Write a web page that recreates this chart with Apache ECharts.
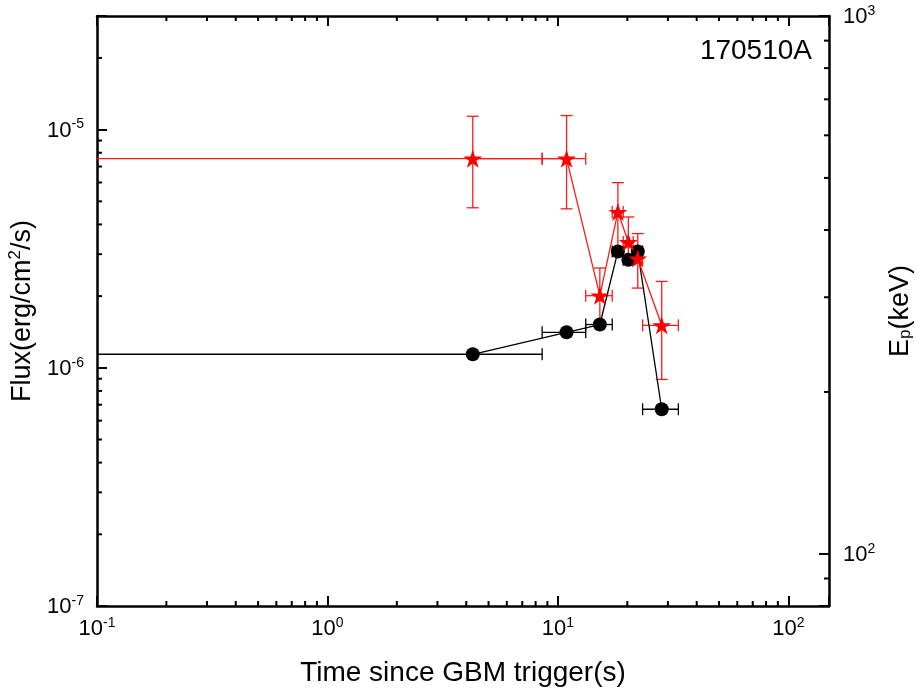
<!DOCTYPE html>
<html>
<head>
<meta charset="utf-8">
<script src="https://cdn.jsdelivr.net/npm/echarts@6/dist/echarts.min.js"></script>
<style>
html,body{margin:0;padding:0;background:#fff;}
#main{width:917px;height:695px;}
</style>
</head>
<body>
<div id="main"></div>
<script>
// 时间区间 (s)
var tMid   = [4.27, 10.9, 15.2, 18.2, 20.2, 22.2, 28.2];
var tStart = [0,    8.54, 13.2, 17.2, 19.2, 21.2, 23.3];
var tEnd   = [8.54, 13.2, 17.2, 19.2, 21.2, 23.3, 33.3];
// 通量 erg/cm2/s
var flux = [1.14e-6, 1.41e-6, 1.52e-6, 3.08e-6, 2.84e-6, 3.08e-6, 6.7e-7];
// 峰值能量 keV
var ep     = [543, 543, 302, 432, 380, 354, 266];
var epLow  = [440, 438, 265, 368, 346, 312, 211];
var epHigh = [651, 653, 340, 490, 423, 394, 321];
// 次刻度
var xMinorTicks = [0.2,0.3,0.4,0.5,0.6,0.7,0.8,0.9, 2,3,4,5,6,7,8,9, 20,30,40,50,60,70,80,90];
var fluxMinorTicks = [2e-7,3e-7,4e-7,5e-7,6e-7,7e-7,8e-7,9e-7, 2e-6,3e-6,4e-6,5e-6,6e-6,7e-6,8e-6,9e-6, 2e-5];
var epMinorTicks = [90, 200,300,400,500,600,700,800,900];

var FONT = '"Liberation Sans", Arial, sans-serif';
var chart = echarts.init(document.getElementById('main'));

function powLabel(v){
    var l = Math.log10(v), e = Math.round(l);
    if (Math.abs(l - e) > 1e-6) return '';
    return '{base|10}{sup|' + e + '}';
}
var labelRich = {
    base: {fontSize: 22, lineHeight: 24, fontFamily: FONT, color: '#000', verticalAlign: 'bottom'},
    sup: {fontSize: 14, lineHeight: 16, fontFamily: FONT, color: '#000', verticalAlign: 'bottom', padding: [0, 0, 10, 0]}
};
var nameRich = {
    n: {fontSize: 27, fontFamily: FONT, color: '#000'},
    sup: {fontSize: 17, fontFamily: FONT, color: '#000', padding: [0, 0, 14, 0]},
    sub: {fontSize: 17, fontFamily: FONT, color: '#000', padding: [10, 0, 0, 0]}
};
var axisLine = {show: true, lineStyle: {color: '#000', width: 2.5}};
var axisTick = {show: true, inside: true, length: 10, lineStyle: {color: '#000', width: 2}};
function axisLabel(margin){
    return {formatter: powLabel, rich: labelRich, margin: margin,
        fontSize: 22, fontFamily: FONT, color: '#000', hideOverlap: false};
}

// 误差棒
function errItem(color){
    return function(params, api){
        var cs = params.coordSys;
        var y = api.value(1);
        var p = api.coord([api.value(0), y]);
        var cap = 6;
        var st = {stroke: color, lineWidth: 1.3};
        var kids = [];
        var xl = api.value(2) > 0 ? api.coord([api.value(2), y])[0] : cs.x;
        var xr = api.coord([api.value(3), y])[0];
        kids.push({type: 'line', shape: {x1: xl, y1: p[1], x2: xr, y2: p[1]}, style: st});
        if (api.value(2) > 0) kids.push({type: 'line', shape: {x1: xl, y1: p[1] - cap, x2: xl, y2: p[1] + cap}, style: st});
        kids.push({type: 'line', shape: {x1: xr, y1: p[1] - cap, x2: xr, y2: p[1] + cap}, style: st});
        var lo = api.value(4), hi = api.value(5);
        if (isFinite(lo) && isFinite(hi) && lo > 0) {
            var yl = api.coord([api.value(0), lo])[1];
            var yh = api.coord([api.value(0), hi])[1];
            kids.push({type: 'line', shape: {x1: p[0], y1: yl, x2: p[0], y2: yh}, style: st});
            kids.push({type: 'line', shape: {x1: p[0] - cap, y1: yl, x2: p[0] + cap, y2: yl}, style: st});
            kids.push({type: 'line', shape: {x1: p[0] - cap, y1: yh, x2: p[0] + cap, y2: yh}, style: st});
        }
        return {type: 'group', children: kids};
    };
}
// 次刻度
function minorX(params, api){
    var cs = params.coordSys;
    var x = api.coord([api.value(0), api.value(1)])[0];
    var st = {stroke: '#000', lineWidth: 2};
    return {type: 'group', children: [
        {type: 'line', shape: {x1: x, y1: cs.y + cs.height, x2: x, y2: cs.y + cs.height - 5}, style: st},
        {type: 'line', shape: {x1: x, y1: cs.y, x2: x, y2: cs.y + 5}, style: st}
    ]};
}
function minorY(side){
    return function(params, api){
        var cs = params.coordSys;
        var y = api.coord([api.value(0), api.value(1)])[1];
        var x0 = side === 'left' ? cs.x : cs.x + cs.width;
        var x1 = side === 'left' ? x0 + 5 : x0 - 5;
        return {type: 'line', shape: {x1: x0, y1: y, x2: x1, y2: y}, style: {stroke: '#000', lineWidth: 2}};
    };
}

var star = 'path://M50,0 L61.2,34.5 L97.6,34.5 L68.2,55.9 L79.4,90.5 L50,69.1 L20.6,90.5 L31.8,55.9 L2.4,34.5 L38.8,34.5 Z';

var option = {
    animation: false,
    backgroundColor: '#fff',
    title: {
        text: '170510A', right: 105, top: 37, padding: 0,
        textStyle: {fontSize: 28, fontWeight: 'normal', fontFamily: FONT, color: '#000'}
    },
    grid: {left: 97, right: 88, top: 16, bottom: 89, containLabel: false, outerBoundsMode: 'none'},
    xAxis: [{
        type: 'log', min: 0.1, max: 150, position: 'bottom',
        name: 'Time since GBM trigger(s)', nameLocation: 'middle', nameGap: 53,
        nameTextStyle: {fontSize: 28, fontFamily: FONT, color: '#000'},
        axisLine: axisLine, axisTick: axisTick, splitLine: {show: false},
        axisLabel: axisLabel(10)
    }, {
        type: 'log', min: 0.1, max: 150, position: 'top',
        axisLine: axisLine, axisTick: axisTick, splitLine: {show: false},
        axisLabel: {show: false}
    }],
    yAxis: [{
        type: 'log', min: 1e-7, max: 3e-5, position: 'left',
        name: '{n|Flux(erg/cm}{sup|2}{n|/s)}', nameLocation: 'middle', nameGap: 50, nameRotate: 90,
        nameTextStyle: {rich: nameRich},
        axisLine: axisLine, axisTick: axisTick, splitLine: {show: false},
        axisLabel: axisLabel(13)
    }, {
        type: 'log', min: 80, max: 1000, position: 'right',
        name: '{n|E}{sub|p}{n|(keV)}', nameLocation: 'middle', nameGap: 58, nameRotate: 90,
        nameTextStyle: {rich: nameRich},
        axisLine: axisLine, axisTick: axisTick, splitLine: {show: false},
        axisLabel: axisLabel(14)
    }],
    series: [
        {
            type: 'custom', xAxisIndex: 0, yAxisIndex: 0, renderItem: minorX, silent: true,
            encode: {x: 0, y: 1},
            data: xMinorTicks.map(function(v){ return [v, 1e-6]; })
        },
        {
            type: 'custom', xAxisIndex: 0, yAxisIndex: 0, renderItem: minorY('left'), silent: true,
            encode: {x: 0, y: 1},
            data: fluxMinorTicks.map(function(v){ return [1, v]; })
        },
        {
            type: 'custom', xAxisIndex: 0, yAxisIndex: 1, renderItem: minorY('right'), silent: true,
            encode: {x: 0, y: 1},
            data: epMinorTicks.map(function(v){ return [1, v]; })
        },
        {
            name: 'flux err', type: 'custom', xAxisIndex: 0, yAxisIndex: 0,
            renderItem: errItem('#000'), encode: {x: 0, y: 1},
            data: tMid.map(function(t, i){ return [t, flux[i], tStart[i], tEnd[i]]; })
        },
        {
            name: 'flux', type: 'line', xAxisIndex: 0, yAxisIndex: 0,
            data: tMid.map(function(t, i){ return [t, flux[i]]; }),
            symbol: 'circle', symbolSize: 14,
            itemStyle: {color: '#000'}, lineStyle: {color: '#000', width: 1.3}
        },
        {
            name: 'Ep err', type: 'custom', xAxisIndex: 0, yAxisIndex: 1,
            renderItem: errItem('#ff1a1a'), encode: {x: 0, y: 1},
            data: tMid.map(function(t, i){ return [t, ep[i], tStart[i], tEnd[i], epLow[i], epHigh[i]]; })
        },
        {
            name: 'Ep', type: 'line', xAxisIndex: 0, yAxisIndex: 1,
            data: tMid.map(function(t, i){ return [t, ep[i]]; }),
            symbol: star, symbolSize: 19, symbolKeepAspect: true,
            itemStyle: {color: '#ff0000'}, lineStyle: {color: '#ff1a1a', width: 1.3}
        }
    ]
};
chart.setOption(option);
</script>
</body>
</html>
